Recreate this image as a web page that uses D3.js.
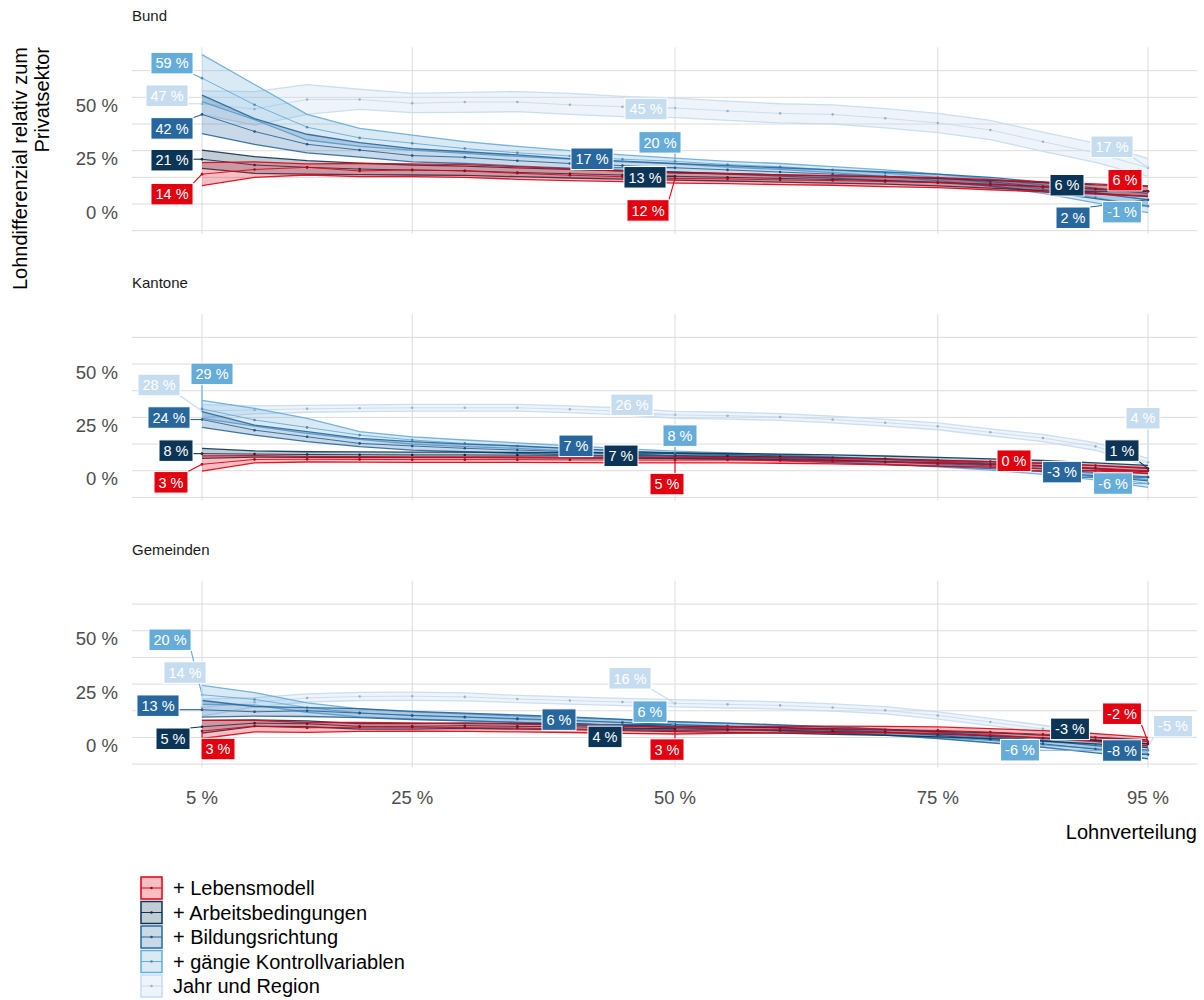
<!DOCTYPE html>
<html><head><meta charset="utf-8">
<script src="https://cdn.jsdelivr.net/npm/d3@7"></script>
<style>
body{margin:0;background:#fff}
svg{display:block}
text{font-family:"Liberation Sans",Arial,Helvetica,sans-serif}
</style>
</head><body>
<svg id="chart" width="1204" height="1000"></svg>
<script>
// ---------------- DATA ----------------
const quantiles = [5,10,15,20,25,30,35,40,45,50,55,60,65,70,75,80,85,90,95];
const xTicks = [5,25,50,75,95];
const xTickLabels = ["5 %","25 %","50 %","75 %","95 %"];
const yTicks = [0,25,50];
const yTickLabels = ["0 %","25 %","50 %"];
const panelNames = ["Bund","Kantone","Gemeinden"];
const seriesNames = ["+ Lebensmodell","+ Arbeitsbedingungen","+ Bildungsrichtung","+ gängie Kontrollvariablen","Jahr und Region"];
const seriesColors = ["#e3000f","#0b3556","#28679e","#66acd9","#c6dcef"];
const labelQuantiles = [5,50,95];

// Bund
const bLM   = [14,16.2,17.2,15.5,16,15.5,14.4,13.5,12.8,12,11.8,11.3,11,10.5,10,9,8,7,6];
const bLMlo = [8.6,12.5,13.6,12.8,12.8,12.5,11.6,11,10.5,9.8,9.6,9.1,8.8,8.2,7.7,6.7,5.7,4.7,3.7];
const bLMhi = [19.4,19.8,18.8,19,18.8,18.5,17.5,16.5,15.4,14.5,14.2,13.7,13.3,12.8,12.4,11.4,10.4,9.4,8.3];
const bAB   = [21,18.3,17.2,16.4,15.9,15.6,14.8,14.2,13.6,13,12.5,12,11.5,11,10.2,9.3,8.2,7,6];
const bABlo = [16.7,14.4,14,13.8,13.6,13.4,12.8,12.2,11.7,11.2,10.8,10.3,9.8,9.3,8.5,7.5,6.3,5,3.5];
const bABhi = [25.3,22.2,20.3,19.2,18.3,17.8,16.9,16.2,15.5,14.9,14.3,13.7,13.2,12.7,12,11.1,10.1,9,8.5];
const bBR   = [42,34,28,25.3,22.7,21.9,20.3,19,18,17,16,15,14,13,12,10.5,8,5,2];
const bBRlo = [33,28,24,22,19.8,19,17.8,16.8,15.9,15,14,13.1,12.1,11,10,8.5,5.8,2.5,-1];
const bBRhi = [51,40,32.7,28.8,26,24.5,23,21.3,20.1,19,18,17,16,15,14,12.5,10.2,7.5,5];
const bGK   = [59,46.5,36,31,28.5,26,24,22.5,21,20,18.5,17.5,16,14.5,12.5,10,7,3,-1];
const bGKlo = [48,39.5,30,27,25.3,23.7,22.3,21,19.8,18.8,17.3,16.2,14.7,13,11,8.3,5,0.5,-4];
const bGKhi = [70,56,42,35.5,32.3,29.2,27,25,23,21.5,20,19,17.5,16,14,11.8,9,5.5,2];
const bJR   = [47,44.5,49,49,47.2,47.8,47.8,46.5,45.6,45,43.6,42.5,42,40.2,38,34.7,29.2,24,17];
const bJRlo = [42,37,42,44.4,42.8,43,43.3,42,41,40.5,39.2,38,37.5,35.7,33.5,30.2,24.7,19.5,13];
const bJRhi = [53,52.7,56,53.8,51.9,52.3,52.7,51.9,50.5,49.6,48.2,47,46.5,44.7,42.5,39.2,33.7,28.5,21.4];

// Kantone
const kLM   = [3,5.3,5.4,5.3,5.2,5.2,5.2,5.1,5,5,5,4.8,4.5,4,3.5,3,2.2,1.2,0];
const kLMlo = [-0.2,3.7,4.1,4,3.9,3.9,3.9,3.8,3.7,3.7,3.7,3.5,3.2,2.7,2.2,1.7,0.9,-0.1,-1.4];
const kLMhi = [7,7.1,6.7,6.6,6.5,6.5,6.5,6.4,6.3,6.3,6.3,6.1,5.8,5.3,4.8,4.3,3.5,2.5,1.4];
const kAB   = [8,7.8,7.6,7.5,7.4,7.4,7.3,7.2,7.1,7,6.8,6.5,6.1,5.6,5,4.3,3.5,2.4,1];
const kABlo = [5.8,6.4,6.3,6.2,6.1,6.1,6,5.9,5.8,5.7,5.5,5.2,4.8,4.3,3.7,3,2.2,1.1,-0.5];
const kABhi = [10.5,9.3,8.9,8.8,8.7,8.7,8.6,8.5,8.4,8.3,8.1,7.8,7.4,6.9,6.3,5.6,4.8,3.7,2.5];
const kBR   = [24,19,15.9,12.8,11.6,10.5,9.7,8.9,7.9,7,6.5,5.8,5,4.2,3.3,2.3,1,-0.8,-3];
const kBRlo = [20.3,16.7,13.6,11.3,9.7,8.9,8.1,7.5,6.6,5.8,5.3,4.6,3.8,3,2.1,1,-0.4,-2.4,-4.8];
const kBRhi = [27.7,21.4,18.3,15.2,13.6,12.5,11.6,10.5,9.3,8.3,7.7,7,6.2,5.4,4.5,3.6,2.4,0.8,-1.2];
const kGK   = [29,23.8,20.3,16.7,14.4,12.8,11.6,10.4,9.2,8,7.2,6.3,5.3,4.2,3,1.6,-0.3,-2.8,-6];
const kGKlo = [24.5,20.9,17.5,14.7,12.5,11.3,10.5,9.2,8,6.8,6,5.1,4.1,3,1.8,0.3,-1.7,-4.3,-7.8];
const kGKhi = [33,29.2,24.5,18.3,15.9,14.4,13.1,11.7,10.4,9.2,8.4,7.5,6.5,5.4,4.2,2.9,1.1,-1.3,-4.2];
const kJR   = [28,28.5,29,29.3,29.5,29.5,29.5,28.8,27.8,26.2,25.8,25.2,24,22.5,20.8,18,15.3,11.4,4];
const kJRlo = [25,26.6,27.4,27.7,27.9,27.9,27.9,27.2,26.2,24.6,24.2,23.6,22.4,20.9,19.2,16.4,13.6,9.6,2.2];
const kJRhi = [31,30.4,30.6,30.9,31.1,31.1,31.1,30.4,29.4,27.8,27.4,26.8,25.6,24.1,22.4,19.6,17,13.2,5.8];

// Gemeinden
const gLM   = [3,5.3,4.5,4.8,4.8,4.6,4.4,4,3.5,3.2,3.4,3.6,3.7,3.6,3.3,2.5,1.5,0,-2];
const gLMlo = [-0.5,2.6,2.4,2.8,2.9,2.8,2.6,2.3,1.9,1.6,1.9,2.1,2.2,2.1,1.8,0.9,-0.2,-1.8,-4];
const gLMhi = [8,8,7,7,6.8,6.5,6.3,5.8,5.2,4.8,5,5.2,5.3,5.2,4.9,4.1,3.2,1.8,0];
const gAB   = [5,6.7,6.4,5.2,5.2,5.5,5.2,5,4.5,4,3.7,3.3,2.8,2.3,1.6,0.8,-0.3,-1.5,-3];
const gABlo = [2,5.2,5,3.9,3.9,4.2,3.9,3.7,3.2,2.7,2.4,2,1.5,1,0.3,-0.6,-1.7,-3,-4.8];
const gABhi = [8,8.2,7.8,6.5,6.5,6.8,6.5,6.3,5.8,5.3,5,4.6,4.1,3.6,2.9,2.2,1.1,0,-1.2];
const gBR   = [13,12,12.5,11.4,10.3,9.6,8.8,8,7,6,5.3,4.5,3.5,2.5,1,-1,-3,-5.5,-8];
const gBRlo = [9.5,10,9.8,9.3,8.4,7.8,7.1,6.4,5.5,4.6,3.9,3.1,2.1,1.1,-0.5,-2.5,-4.6,-7.2,-10];
const gBRhi = [17.3,14.5,14,13.5,12.2,11.4,10.5,9.6,8.5,7.4,6.7,5.9,4.9,3.9,2.5,0.5,-1.4,-3.8,-6];
const gGK   = [20,17.8,14,11.5,10.3,9.5,8.5,7.8,7,6,5.3,4.5,3.5,2.5,1.3,0,-2,-3.5,-6];
const gGKlo = [15.5,15.2,11.8,9.6,8.6,7.9,7,6.4,5.6,4.7,4,3.2,2.2,1.2,0,-1.4,-3.5,-5.2,-8];
const gGKhi = [24.4,21,16.2,13.4,12,11.1,10,9.2,8.4,7.3,6.6,5.8,4.8,3.8,2.6,1.4,-0.5,-1.8,-4];
const gJR   = [14,16.5,18.5,19.2,19.3,19,18,17.3,16.6,16,15.5,15,14,12.7,10.3,7.2,4,0,-5];
const gJRlo = [10,14.3,16.6,17.3,17.4,17.1,16.3,15.6,14.9,14.3,13.8,13.3,12.3,11,8.6,5.5,2.3,-1.8,-7];
const gJRhi = [18,18.7,20.4,21.1,21.2,20.9,19.7,19,18.3,17.7,17.2,16.7,15.7,14.4,12,8.9,5.7,1.8,-3];

// label placement (pixel offsets of label centre from its point), per panel, per series, per labelled quantile
const bundNudges      = [[[-30,20],[-27,32],[-23,-11]],[[-30,1],[-30,1],[-81,-6]],[[-30,14],[-83,-9],[-75,18]],[[-30,-15],[-15,-19],[-26,6]],[[-35,-8],[-29,1],[-36,-21]]];
const kantoneNudges   = [[[-31,18],[-8,24],[-134,-10]],[[-26,-3],[-54,0],[-26,-18]],[[-33,-2],[-99,-10],[-86,-5]],[[10,-35],[5,-18],[-35,0]],[[-43,-26],[-43,-10],[-5,-44]]];
const gemeindenNudges = [[[16,18],[-8,19],[-26,-28]],[[-29,12],[-70,8],[-78,-15]],[[-44,-4],[-116,-5],[-26,-4]],[[-32,-55],[-25,-13],[-128,0]],[[-17,-35],[-45,-25],[25,-22]]];

// ---------------- BUILD ----------------
const panels = [
  {name:panelNames[0], nudges:bundNudges, series:[[bLM,bLMlo,bLMhi],[bAB,bABlo,bABhi],[bBR,bBRlo,bBRhi],[bGK,bGKlo,bGKhi],[bJR,bJRlo,bJRhi]]},
  {name:panelNames[1], nudges:kantoneNudges, series:[[kLM,kLMlo,kLMhi],[kAB,kABlo,kABhi],[kBR,kBRlo,kBRhi],[kGK,kGKlo,kGKhi],[kJR,kJRlo,kJRhi]]},
  {name:panelNames[2], nudges:gemeindenNudges, series:[[gLM,gLMlo,gLMhi],[gAB,gABlo,gABhi],[gBR,gBRlo,gBRhi],[gGK,gGKlo,gGKhi],[gJR,gJRlo,gJRhi]]}
];

const svg = d3.select("#chart");
const plotLeft = 132, plotRight = 1197;
const x = d3.scaleLinear().domain([5,95]).range([202,1148]);
const panelH = 183.5, panelStep = 266.7, firstTop = 50.4;
const gridColor = "#dcdcdc";

function alpha(c, a){ const o = d3.color(c); o.opacity = a; return o.formatRgb(); }

panels.forEach((p, pi) => {
  const top = firstTop + pi*panelStep;
  const y = d3.scaleLinear().domain([-14,72]).range([top+panelH, top]);
  const g = svg.append("g");

  // grid
  g.selectAll("line.h").data(d3.range(-12.5, 63, 12.5)).join("line")
    .attr("x1", plotLeft).attr("x2", plotRight)
    .attr("y1", d => y(d)).attr("y2", d => y(d))
    .attr("stroke", gridColor).attr("stroke-width", 1);
  g.selectAll("line.v").data(xTicks).join("line")
    .attr("x1", d => x(d)).attr("x2", d => x(d))
    .attr("y1", top - 3).attr("y2", top + panelH)
    .attr("stroke", gridColor).attr("stroke-width", 1);

  // y tick labels
  g.selectAll("text.yt").data(yTicks).join("text")
    .attr("x", 118).attr("y", d => y(d) + 8).attr("dy", "0.35em")
    .attr("text-anchor", "end").attr("font-size", 18.5).attr("fill", "#4d4d4d")
    .text((d,i) => yTickLabels[i]);

  // strip title
  g.append("text").attr("x", 132).attr("y", top - 29).attr("font-size", 15).attr("fill", "#1a1a1a").text(p.name);

  // series (draw lightest first)
  const order = [4,3,2,1,0];
  order.forEach(si => {
    const [mid, lo, hi] = p.series[si];
    const col = seriesColors[si];
    const pts = quantiles.map((q,i) => ({q, m:mid[i], l:lo[i], h:hi[i]}));
    const area = d3.area().x(d => x(d.q)).y0(d => y(d.l)).y1(d => y(d.h));
    g.append("path").attr("d", area(pts)).attr("fill", alpha(col, si===4 ? 0.3 : 0.25)).attr("stroke", "none");
    const lineLo = d3.line().x(d => x(d.q)).y(d => y(d.l));
    const lineHi = d3.line().x(d => x(d.q)).y(d => y(d.h));
    const lineM  = d3.line().x(d => x(d.q)).y(d => y(d.m));
    [lineLo, lineHi].forEach(L => g.append("path").attr("d", L(pts)).attr("fill","none")
      .attr("stroke", col).attr("stroke-width", 1.3).attr("stroke-opacity", 0.9));
    g.append("path").attr("d", lineM(pts)).attr("fill","none")
      .attr("stroke", col).attr("stroke-width", 1).attr("stroke-opacity", 0.9);
    g.selectAll(null).data(pts).join("circle")
      .attr("cx", d => x(d.q)).attr("cy", d => y(d.m)).attr("r", 1.3)
      .attr("fill", d3.color(col).darker(0.6));
  });

  // labels
  const lg = g.append("g");
  const segG = lg.append("g"), boxG = lg.append("g");
  [0,1,2,3,4].forEach(si => {
    const mid = p.series[si][0];
    labelQuantiles.forEach((lq, k) => {
      const idx = quantiles.indexOf(lq);
      const v = mid[idx];
      const px = x(lq), py = y(v);
      const [dx, dy] = p.nudges[si][k];
      const cx = px + dx, cy = py + dy;
      const t = boxG.append("text").attr("x", cx).attr("y", cy).attr("dy","0.36em")
        .attr("text-anchor","middle").attr("font-size", 14.5).attr("fill","#fff")
        .text(Math.round(v) + " %");
      const tw = t.node().getComputedTextLength();
      const w = tw + 9, h = 21.5;
      const l = cx - w/2, r = cx + w/2, tp = cy - h/2, bt = cy + h/2;
      boxG.insert("rect", () => t.node())
        .attr("x", l).attr("y", tp).attr("width", w).attr("height", h)
        .attr("fill", seriesColors[si]).attr("stroke", "#fff").attr("stroke-width", 1);
      const nx = Math.max(l, Math.min(px, r)), ny = Math.max(tp, Math.min(py, bt));
      if (Math.hypot(nx-px, ny-py) > 3) {
        segG.append("line").attr("x1", px).attr("y1", py).attr("x2", nx).attr("y2", ny)
          .attr("stroke", seriesColors[si]).attr("stroke-width", 1.1);
      }
    });
  });
});

// x axis labels
svg.selectAll("text.xt").data(xTicks).join("text")
  .attr("x", d => x(d)).attr("y", 798).attr("dy","0.35em")
  .attr("text-anchor","middle").attr("font-size", 18.5).attr("fill","#4d4d4d")
  .text((d,i) => xTickLabels[i]);
svg.append("text").attr("x", plotRight).attr("y", 839).attr("text-anchor","end")
  .attr("font-size", 20).attr("fill","#000").text("Lohnverteilung");

// y axis title
const yt = svg.append("text").attr("transform","translate(0,47) rotate(-90)")
  .attr("text-anchor","end").attr("font-size", 20).attr("fill","#000");
yt.append("tspan").attr("x", 0).attr("y", 27).text("Lohndifferenzial relativ zum");
yt.append("tspan").attr("x", 0).attr("y", 49).text("Privatsektor");

// legend
const leg = svg.append("g");
seriesNames.forEach((nm, i) => {
  const ky = 877 + i*24.5;
  const col = seriesColors[i];
  leg.append("rect").attr("x", 141).attr("y", ky).attr("width", 21).attr("height", 22)
    .attr("fill", alpha(col, i===4 ? 0.3 : 0.25)).attr("stroke", col).attr("stroke-width", 1.5);
  leg.append("line").attr("x1", 141).attr("x2", 162).attr("y1", ky+11).attr("y2", ky+11)
    .attr("stroke", col).attr("stroke-width", 1);
  leg.append("circle").attr("cx", 151.5).attr("cy", ky+11).attr("r", 1.3).attr("fill", d3.color(col).darker(0.6));
  leg.append("text").attr("x", 173).attr("y", ky+11).attr("dy","0.35em")
    .attr("font-size", 20).attr("fill","#000").text(nm);
});
</script>
</body></html>
